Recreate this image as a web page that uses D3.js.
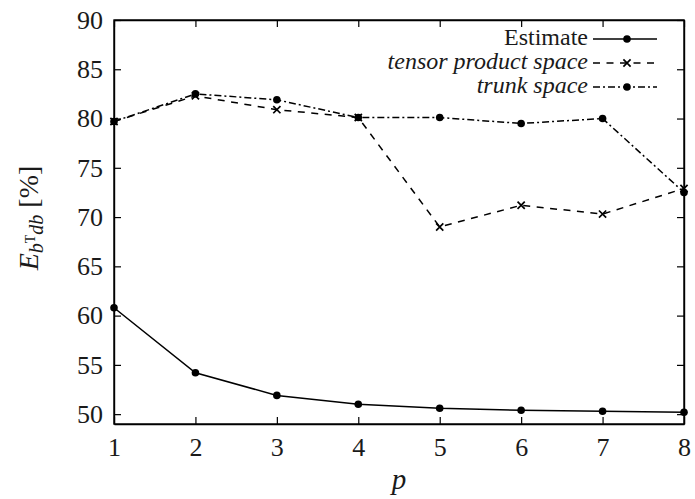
<!DOCTYPE html>
<html>
<head>
<meta charset="UTF-8" />
<title>Estimate vs tensor product / trunk space</title>
<script src="https://cdn.jsdelivr.net/npm/d3@7"></script>
<style>
  body { margin: 0; background: #fff; }
</style>
</head>
<body>
<div id="chart"></div>
<script>
const pValues = [1, 2, 3, 4, 5, 6, 7, 8];
const estimate = [60.8, 54.2, 51.9, 51.0, 50.6, 50.4, 50.3, 50.2];
const tensorProduct = [79.7, 82.3, 80.9, 80.1, 69.0, 71.2, 70.3, 72.9];
const trunkSpace = [79.7, 82.5, 81.9, 80.1, 80.1, 79.5, 80.0, 72.5];
const yTicks = [50, 55, 60, 65, 70, 75, 80, 85, 90];
const seriesNames = ["Estimate", "tensor product space", "trunk space"];

const fontName = 'Liberation Serif';
const ink = '#1a1a1a';
const w = 695, h = 499;
const plotLeft = 114, plotRight = 684, plotTop = 20, plotBottom = 424;

const x = d3.scaleLinear().domain([1, 8]).range([plotLeft, plotRight]);
const y = d3.scaleLinear().domain([49, 90]).range([plotBottom, plotTop]);

const svg = d3.select('#chart').append('svg')
  .attr('width', w).attr('height', h)
  .attr('font-family', fontName);

// frame with inward ticks on all four sides
svg.append('g').attr('transform', `translate(0,${plotBottom})`)
  .call(d3.axisBottom(x).tickValues(pValues).tickSizeInner(-7).tickSizeOuter(0).tickPadding(14).tickFormat(d3.format('d')));
svg.append('g').attr('transform', `translate(0,${plotTop})`)
  .call(d3.axisTop(x).tickValues(pValues).tickSizeInner(-7).tickSizeOuter(0).tickFormat(''));
svg.append('g').attr('transform', `translate(${plotLeft},0)`)
  .call(d3.axisLeft(y).tickValues(yTicks).tickSizeInner(-7).tickSizeOuter(0).tickPadding(11));
svg.append('g').attr('transform', `translate(${plotRight},0)`)
  .call(d3.axisRight(y).tickValues(yTicks).tickSizeInner(-7).tickSizeOuter(0).tickFormat(''));
svg.selectAll('g').attr('font-family', fontName);
svg.selectAll('.tick text')
  .attr('font-family', fontName).attr('font-size', 26).attr('fill', ink);
svg.selectAll('.domain').attr('stroke', '#000').attr('stroke-width', 1.4);
svg.selectAll('.tick line').attr('stroke', '#000').attr('stroke-width', 1.2);
svg.append('rect').attr('x', plotLeft).attr('y', plotTop)
  .attr('width', plotRight - plotLeft).attr('height', plotBottom - plotTop)
  .attr('fill', 'none').attr('stroke', '#000').attr('stroke-width', 1.4);

const series = [
  { name: seriesNames[0], values: estimate, dash: null, marker: 'dot', italic: false },
  { name: seriesNames[1], values: tensorProduct, dash: '7,6.5', marker: 'cross', italic: true },
  { name: seriesNames[2], values: trunkSpace, dash: '7,3,2,3', marker: 'dot', italic: true }
];

const line = d3.line().x((d, i) => x(pValues[i])).y(d => y(d));

function drawMarker(g, type, cx, cy) {
  if (type === 'dot') {
    g.append('circle').attr('cx', cx).attr('cy', cy).attr('r', 3.8).attr('fill', '#000');
  } else {
    const s = 3.6;
    g.append('path')
      .attr('d', `M${cx - s},${cy - s}L${cx + s},${cy + s}M${cx - s},${cy + s}L${cx + s},${cy - s}`)
      .attr('stroke', '#000').attr('stroke-width', 1.7);
  }
}

series.forEach(s => {
  const g = svg.append('g');
  g.append('path').datum(s.values).attr('d', line)
    .attr('fill', 'none').attr('stroke', '#000').attr('stroke-width', 1.5)
    .attr('stroke-dasharray', s.dash);
  s.values.forEach((v, i) => drawMarker(g, s.marker, x(pValues[i]), y(v)));
});

// legend
const legX = 588, legY = [39, 63, 87];
series.forEach((s, i) => {
  const g = svg.append('g');
  g.append('text').attr('x', legX).attr('y', legY[i] + 6).attr('text-anchor', 'end')
    .attr('font-family', fontName).attr('fill', ink)
    .attr('font-size', 24).attr('font-style', s.italic ? 'italic' : 'normal').text(s.name);
  g.append('line').attr('x1', legX + 5).attr('x2', legX + 69).attr('y1', legY[i]).attr('y2', legY[i])
    .attr('stroke', '#000').attr('stroke-width', 1.5).attr('stroke-dasharray', s.dash);
  drawMarker(g, s.marker, legX + 39, legY[i]);
});

// axis titles
svg.append('text').attr('x', (plotLeft + plotRight) / 2).attr('y', 489).attr('text-anchor', 'middle')
  .attr('font-family', fontName).attr('fill', ink)
  .attr('font-size', 29).attr('font-style', 'italic').text('p');

const yl = svg.append('text').attr('transform', 'translate(38,218) rotate(-90)')
  .attr('font-family', fontName).attr('fill', ink)
  .attr('text-anchor', 'middle').attr('font-size', 28);
yl.append('tspan').attr('font-style', 'italic').text('E');
yl.append('tspan').attr('font-style', 'italic').attr('font-size', 20).attr('dy', 5).text('b');
yl.append('tspan').attr('font-size', 14).attr('dy', -8).text('T');
yl.append('tspan').attr('font-style', 'italic').attr('font-size', 20).attr('dy', 8).text('db');
yl.append('tspan').attr('dy', -5).text('\u00a0[%]');
</script>
</body>
</html>
